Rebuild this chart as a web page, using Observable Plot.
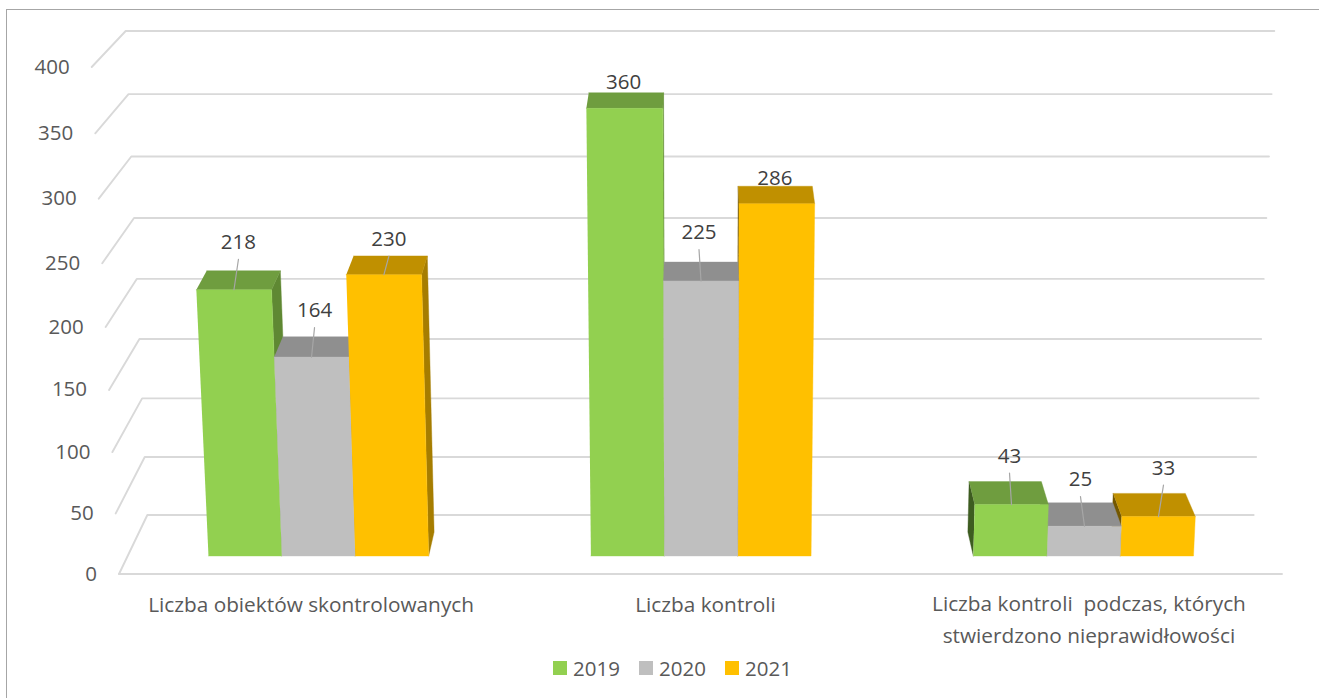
<!DOCTYPE html>
<html lang="pl">
<head>
<meta charset="utf-8">
<script src="https://cdn.jsdelivr.net/npm/d3@7"></script>
<script src="https://cdn.jsdelivr.net/npm/@observablehq/plot@0.6"></script>
<style>
  html, body { margin: 0; padding: 0; background: #fff; overflow: hidden; }
  #page { position: relative; width: 1319px; height: 698px; overflow: hidden; font-family: "Open Sans", sans-serif; }
  #frame { position: absolute; left: 6px; top: 9px; width: 1320px; height: 700px; border: 1.5px solid #a6a6a6; box-sizing: border-box; pointer-events: none; }
  #chart { position: absolute; left: 0; top: 0; }
  #legend { position: absolute; left: 553px; top: 654px; height: 28px; display: flex; align-items: center; font-size: 20.5px; color: #595959; }
  #legend .key { display: flex; align-items: center; width: 86px; }
  #legend i { display: block; width: 14px; height: 14px; margin-right: 6px; }
</style>
</head>
<body>
<div id="page">
  <div id="frame"></div>
  <div id="chart"></div>
  <div id="legend"></div>
</div>
<script>
// ---- data -------------------------------------------------------------
const categories = [
  "Liczba obiektów skontrolowanych",
  "Liczba kontroli",
  "Liczba kontroli  podczas, których\nstwierdzono nieprawidłowości"
];
const years = ["2019", "2020", "2021"];
const values2019 = [218, 360, 43];
const values2020 = [164, 225, 25];
const values2021 = [230, 286, 33];
const yTicks = [0, 50, 100, 150, 200, 250, 300, 350, 400];

// ---- appearance -------------------------------------------------------
const palette = {
  "2019": {front: "#92d050", top: "#6f9d3f", right: "#5f8833", left: "#3d5c20"},
  "2020": {front: "#bfbfbf", top: "#8f8f8f", right: "#7a7a7a", left: "#6a6a6a"},
  "2021": {front: "#ffc000", top: "#c09000", right: "#a67d00", left: "#735700"}
};
const FONT = "'Open Sans', sans-serif";
const WIDTH = 1319, HEIGHT = 654;

// Camera of the 3-D chart: world x (centred), value, depth (0 front, 1 back wall)
function camera(X, v, d) {
  const wy = 1 - 0.000125 * v + 0.05124 * d;
  const wx = 1 - 0.000112 * v + 0.05124 * d;
  return {x: 700 + X / wx, y: (574 - 1.2759 * v - 32.61 * d) / wy - 0.5};
}
const HALF = 581.5;               // half-width of the floor in world units
const BAND = 388.2;               // world distance between category centres
const BAR = 74.5;                 // world width of a bar
const DEPTH_FRONT = 0.2946, DEPTH_BACK = 0.70;

// Hand placement of the data labels relative to the bar's top front edge
const labelNudge = [
  [[4.5, -47], [-1, -25], [-2, -48]],
  [[3, -46], [-2, -48], [-4, -46]],
  [[5, -35], [-2, -25], [5, -48]]
];

// ---- geometry built from the data -------------------------------------
const seriesValues = [values2019, values2020, values2021];
const bars = [];
categories.forEach((c, ci) => {
  years.forEach((yr, si) => {
    const centre = (ci - 1) * BAND + (si - 1) * BAR + 0.5;
    bars.push({ci, si, yr, v: seriesValues[si][ci], x0: centre - BAR / 2, x1: centre + BAR / 2, centre});
  });
});

const faces = [];
function addFace(id, color, corners) {
  corners.forEach(([X, v, d]) => faces.push({id, color, ...camera(X, v, d)}));
}
// painter's order: the bars farthest from the centre of view go first
[...bars].sort((a, b) => Math.abs(b.centre) - Math.abs(a.centre)).forEach((b, i) => {
  const p = palette[b.yr], f = DEPTH_FRONT, k = DEPTH_BACK;
  if (b.x1 < 0) addFace(i + "r", p.right, [[b.x1, b.v, f], [b.x1, b.v, k], [b.x1, 0, k], [b.x1, 0, f]]);
  if (b.x0 > 0) addFace(i + "l", p.left, [[b.x0, b.v, f], [b.x0, b.v, k], [b.x0, 0, k], [b.x0, 0, f]]);
  addFace(i + "t", p.top, [[b.x0, b.v, f], [b.x1, b.v, f], [b.x1, b.v, k], [b.x0, b.v, k]]);
  addFace(i + "f", p.front, [[b.x0, b.v, f], [b.x1, b.v, f], [b.x1, 0, f], [b.x0, 0, f]]);
});

// wall gridlines: front-left corner -> back-left corner -> back-right corner
const grid = [];
yTicks.forEach(v => {
  [[-HALF, v, 0], [-HALF + 0.0075 * v, v, 1], [HALF - 0.01 * v, v, 1]]
    .forEach(([X, val, d]) => grid.push({v, ...camera(X, val, d)}));
});
const floorFront = [camera(-HALF, 0, 0), camera(HALF, 0, 0)];

const labels = bars.map(b => {
  const base = camera(b.centre, b.v, DEPTH_FRONT);
  const [dx, dy] = labelNudge[b.si][b.ci];
  return {text: String(b.v), base, x: base.x + dx, y: base.y + dy - 0.5, leader: dy < -30};
});
const leaders = labels.filter(l => l.leader).flatMap((l, i) => [
  {id: i, x: l.base.x, y: l.base.y},
  {id: i, x: l.x, y: l.y + 17}
]);

const tickLabels = yTicks.map(v => {
  const p = camera(-HALF, v, 0);
  return {text: String(v), x: p.x - 22, y: p.y};
});
const categoryLabels = categories.map((c, ci) => ({
  text: c,
  x: camera((ci - 1) * BAND, 0, DEPTH_FRONT).x + [-7, 5, 6][ci],
  y: ci === 2 ? 616.5 : 601
}));

// ---- chart ------------------------------------------------------------
const chart = Plot.plot({
  width: WIDTH,
  height: HEIGHT,
  margin: 0,
  x: {domain: [0, WIDTH], range: [0, WIDTH], axis: null},
  y: {domain: [0, HEIGHT], range: [0, HEIGHT], axis: null},
  color: {type: "identity"},
  style: {fontFamily: FONT, background: "transparent", whiteSpace: "pre"},
  marks: [
    Plot.line(grid, {x: "x", y: "y", z: "v", stroke: "#d9d9d9", strokeWidth: 1.9, curve: "linear"}),
    Plot.line(floorFront, {x: "x", y: "y", stroke: "#d9d9d9", strokeWidth: 1.9}),
    Plot.line(faces, {x: "x", y: "y", z: "id", fill: "color", stroke: "color", strokeWidth: 0.4, curve: "linear"}),
    Plot.line(leaders, {x: "x", y: "y", z: "id", stroke: "#a6a6a6", strokeWidth: 1.2}),
    Plot.text(labels, {x: "x", y: "y", text: "text", fill: "#404040", fontSize: 20.5, textAnchor: "middle"}),
    Plot.text(tickLabels, {x: "x", y: "y", text: "text", fill: "#595959", fontSize: 20.5, textAnchor: "end"}),
    Plot.text(categoryLabels, {x: "x", y: "y", text: "text", fill: "#595959", fontSize: 20.8, textAnchor: "middle", lineHeight: 1.54})
  ]
});
document.getElementById("chart").append(chart);

// ---- legend below the SVG ---------------------------------------------
const legend = d3.select("#legend");
years.forEach(yr => {
  const key = legend.append("div").attr("class", "key");
  key.append("i").style("background", palette[yr].front);
  key.append("span").text(yr);
});
</script>
</body>
</html>
